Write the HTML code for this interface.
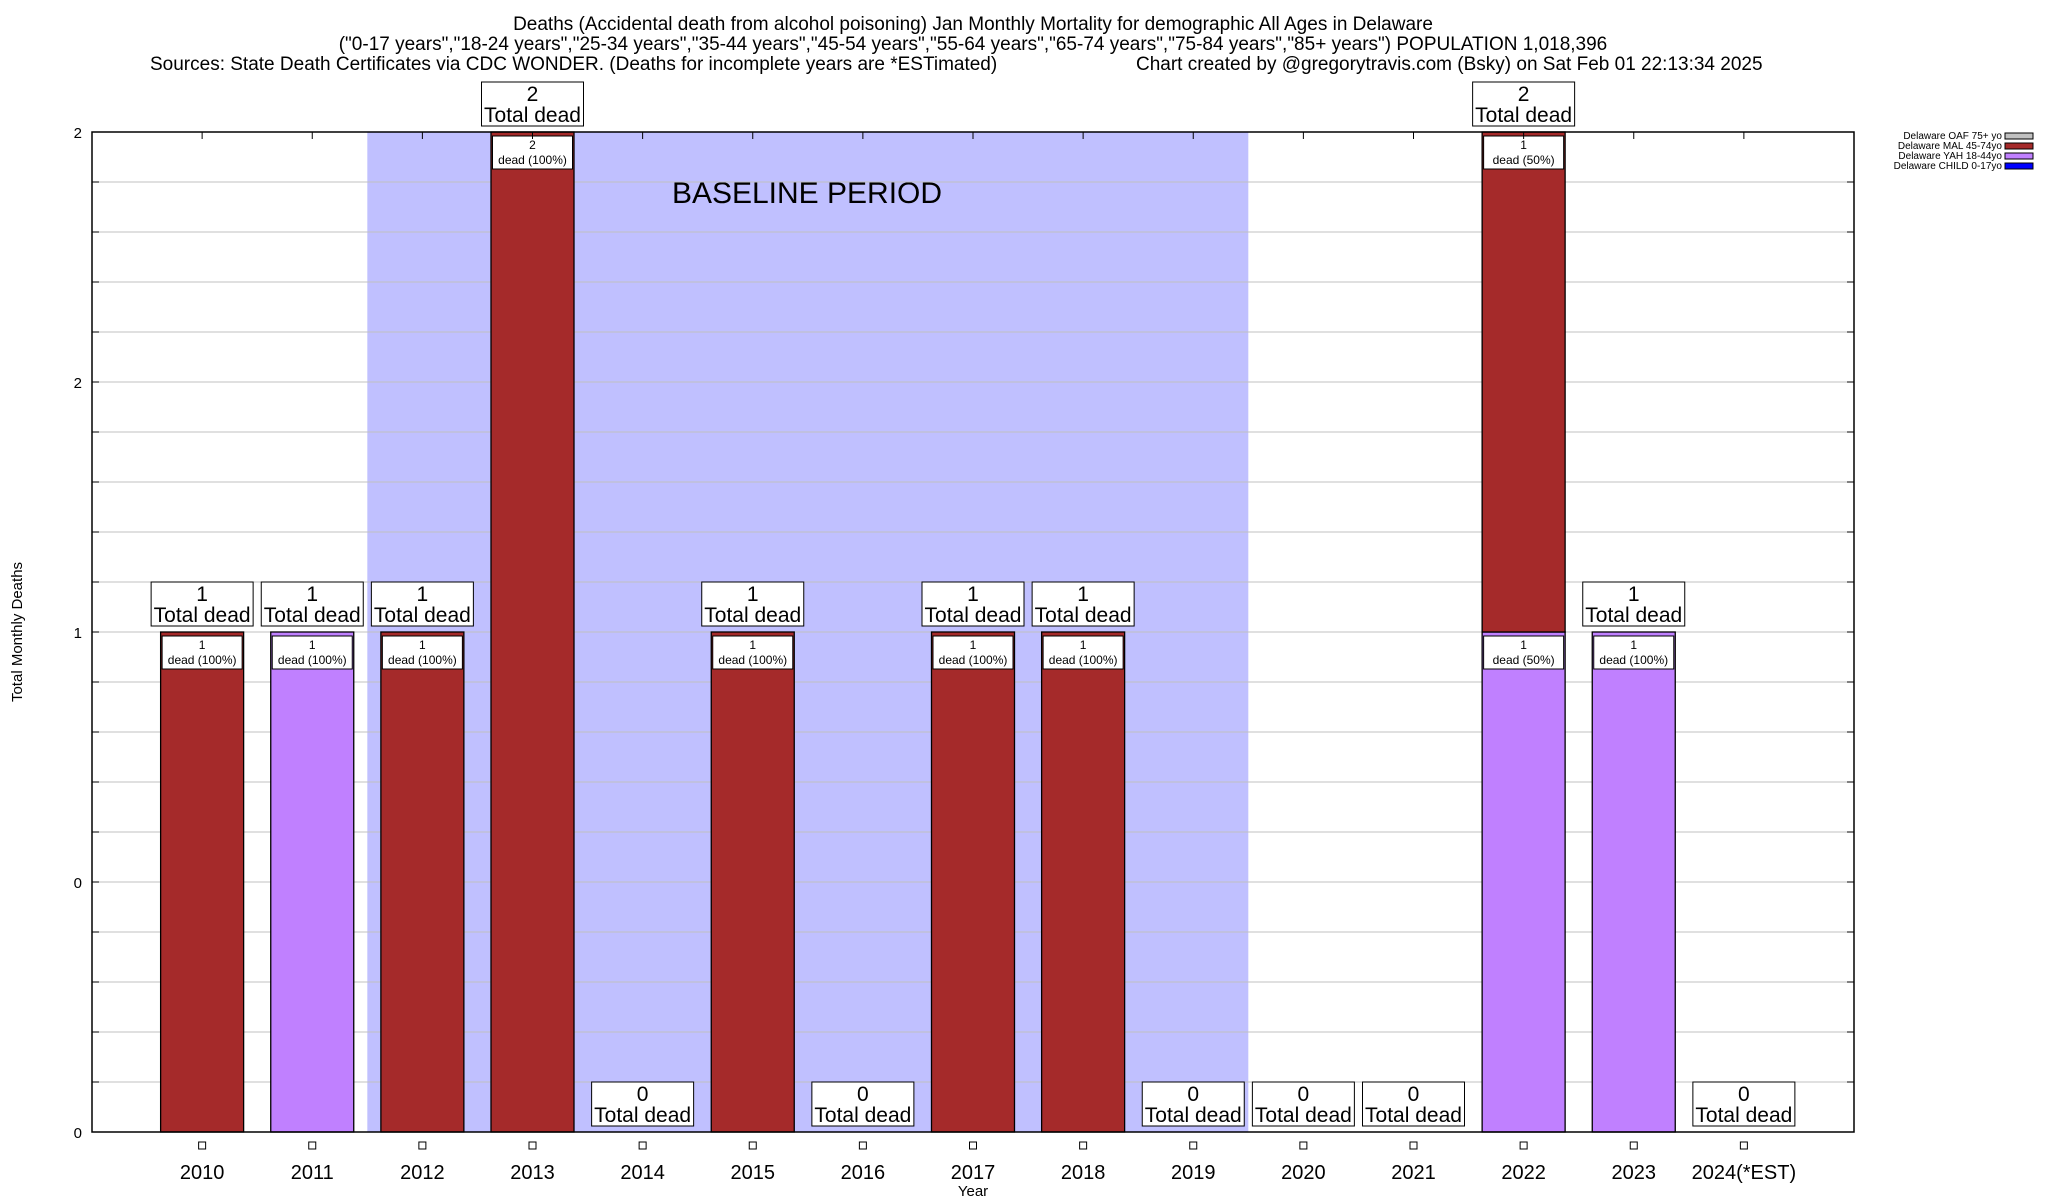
<!DOCTYPE html>
<html><head><meta charset="utf-8"><style>
html,body{margin:0;padding:0;background:#fff;}
svg{display:block;font-family:"Liberation Sans",Arial,sans-serif;}
</style></head><body>
<svg id="chart" width="2048" height="1200" viewBox="0 0 2048 1200" xmlns="http://www.w3.org/2000/svg">
<rect width="2048" height="1200" fill="#fff"/>
<g font-size="19" fill="#000">
<text x="973" y="30" text-anchor="middle">Deaths (Accidental death from alcohol poisoning) Jan Monthly Mortality for demographic All Ages in Delaware</text>
<text x="973" y="50" text-anchor="middle">("0-17 years","18-24 years","25-34 years","35-44 years","45-54 years","55-64 years","65-74 years","75-84 years","85+ years") POPULATION 1,018,396</text>
<text x="150" y="70">Sources: State Death Certificates via CDC WONDER. (Deaths for incomplete years are *ESTimated)</text>
<text x="1136" y="70">Chart created by @gregorytravis.com (Bsky) on Sat Feb 01 22:13:34 2025</text>
</g>
<g id="plot"></g>
<g font-size="10">
<text x="2002" y="139" text-anchor="end">Delaware OAF 75+ yo</text>
<rect x="2005" y="133" width="28" height="6" fill="#c0c0c0" stroke="#000"/>
<text x="2002" y="149" text-anchor="end">Delaware MAL 45-74yo</text>
<rect x="2005" y="143" width="28" height="6" fill="#a52a2a" stroke="#000"/>
<text x="2002" y="159" text-anchor="end">Delaware YAH 18-44yo</text>
<rect x="2005" y="153" width="28" height="6" fill="#c080ff" stroke="#000"/>
<text x="2002" y="169" text-anchor="end">Delaware CHILD 0-17yo</text>
<rect x="2005" y="163" width="28" height="6" fill="#0000ff" stroke="#000"/>
</g>
<text x="22" y="632" font-size="15" text-anchor="middle" transform="rotate(-90 22 632)">Total Monthly Deaths</text>
<text x="973" y="1196" font-size="15" text-anchor="middle">Year</text>
</svg>
<script>
const years=["2010","2011","2012","2013","2014","2015","2016","2017","2018","2019","2020","2021","2022","2023","2024(*EST)"];
const child=[0,0,0,0,0,0,0,0,0,0,0,0,0,0,0];
const yah=[0,1,0,0,0,0,0,0,0,0,0,0,1,1,0];
const mal=[1,0,1,2,0,1,0,1,1,0,0,0,1,0,0];
const oaf=[0,0,0,0,0,0,0,0,0,0,0,0,0,0,0];
const yTickVals=[0,0.5,1,1.5,2];
const yTickLabels=["0","0","1","2","2"];
const baseline=[2012,2019];

const NS="http://www.w3.org/2000/svg";
const L=92,R=1854,T=132,B=1132;
const xs=i=>L+(i+1)*(R-L)/16;
const ys=v=>B-(v/2)*(B-T);
const bw=83;
const g=document.getElementById('plot');
function mk(tag,attrs,parent){const e=document.createElementNS(NS,tag);for(const k in attrs)e.setAttribute(k,attrs[k]);(parent||g).appendChild(e);return e;}
function txt(x,y,s,size,parent){const e=mk('text',{x:x,y:y,'font-size':size,'text-anchor':'middle'},parent);e.textContent=s;return e;}

// baseline shading
const b0=years.indexOf(String(baseline[0])),b1=years.indexOf(String(baseline[1]));
const sh=mk('rect',{x:xs(b0-0.5),y:T,width:xs(b1+0.5)-xs(b0-0.5),height:B-T,fill:'#c0c0ff'});


const bt=txt(807,203,'BASELINE PERIOD',30);



// grid
for(let k=0;k<=20;k++){
  const y=ys(k*0.1);
  const gl=mk('line',{x1:L,x2:R,y1:y,y2:y,stroke:'#c0c0c0','stroke-width':1});
  
  
  mk('line',{x1:L,x2:L+7,y1:y,y2:y,stroke:'#000'});
  mk('line',{x1:R,x2:R-7,y1:y,y2:y,stroke:'#000'});
}
yTickVals.forEach((v,i)=>{
  const t=mk('text',{x:82,y:ys(v)+6,'font-size':15,'text-anchor':'end'});
  t.textContent=yTickLabels[i];
  
  
});

const series=[{d:child,c:'#0000ff',n:'child'},{d:yah,c:'#c080ff',n:'yah'},{d:mal,c:'#a52a2a',n:'mal'},{d:oaf,c:'#c0c0c0',n:'oaf'}];
years.forEach((yr,i)=>{
  const x=xs(i);
  const total=series.reduce((s,o)=>s+o.d[i],0);
  let acc=0;
  const labels=[];
  series.forEach(s=>{
    const v=s.d[i];
    if(v>0){
      const r=mk('rect',{x:x-bw/2,y:ys(acc+v),width:bw,height:ys(acc)-ys(acc+v),fill:s.c,stroke:'#000','stroke-width':1.3});
      
      
      labels.push([acc+v,v]);
    }
    acc+=v;
  });
  labels.forEach(([top,v])=>{
    const yt=ys(top)+4;
    const bx=mk('rect',{x:x-40,y:yt,width:80,height:33,fill:'#fff',stroke:'#000'});
    
    
    txt(x,yt+13,String(v),12);
    txt(x,yt+28,'dead ('+Math.round(v/total*100)+'%)',12);
  });
  // total label
  const yb=ys(total)-6;
  const tb=mk('rect',{x:x-51,y:yb-44,width:102,height:44,fill:'#fff',stroke:'#000'});
  
  
  txt(x,yb-25,String(total),21);
  txt(x,yb-4,'Total dead',21);
  // ticks
  mk('line',{x1:x,x2:x,y1:T,y2:T+7,stroke:'#000'});
  mk('rect',{x:x-3.5,y:1142,width:7,height:7,fill:'#fff',stroke:'#000'});
  const xl=txt(x,1179,yr,20);
  
  
});
const fr=mk('rect',{x:L,y:T,width:R-L,height:B-T,fill:'none',stroke:'#000','stroke-width':1.5});


</script>
</body></html>
